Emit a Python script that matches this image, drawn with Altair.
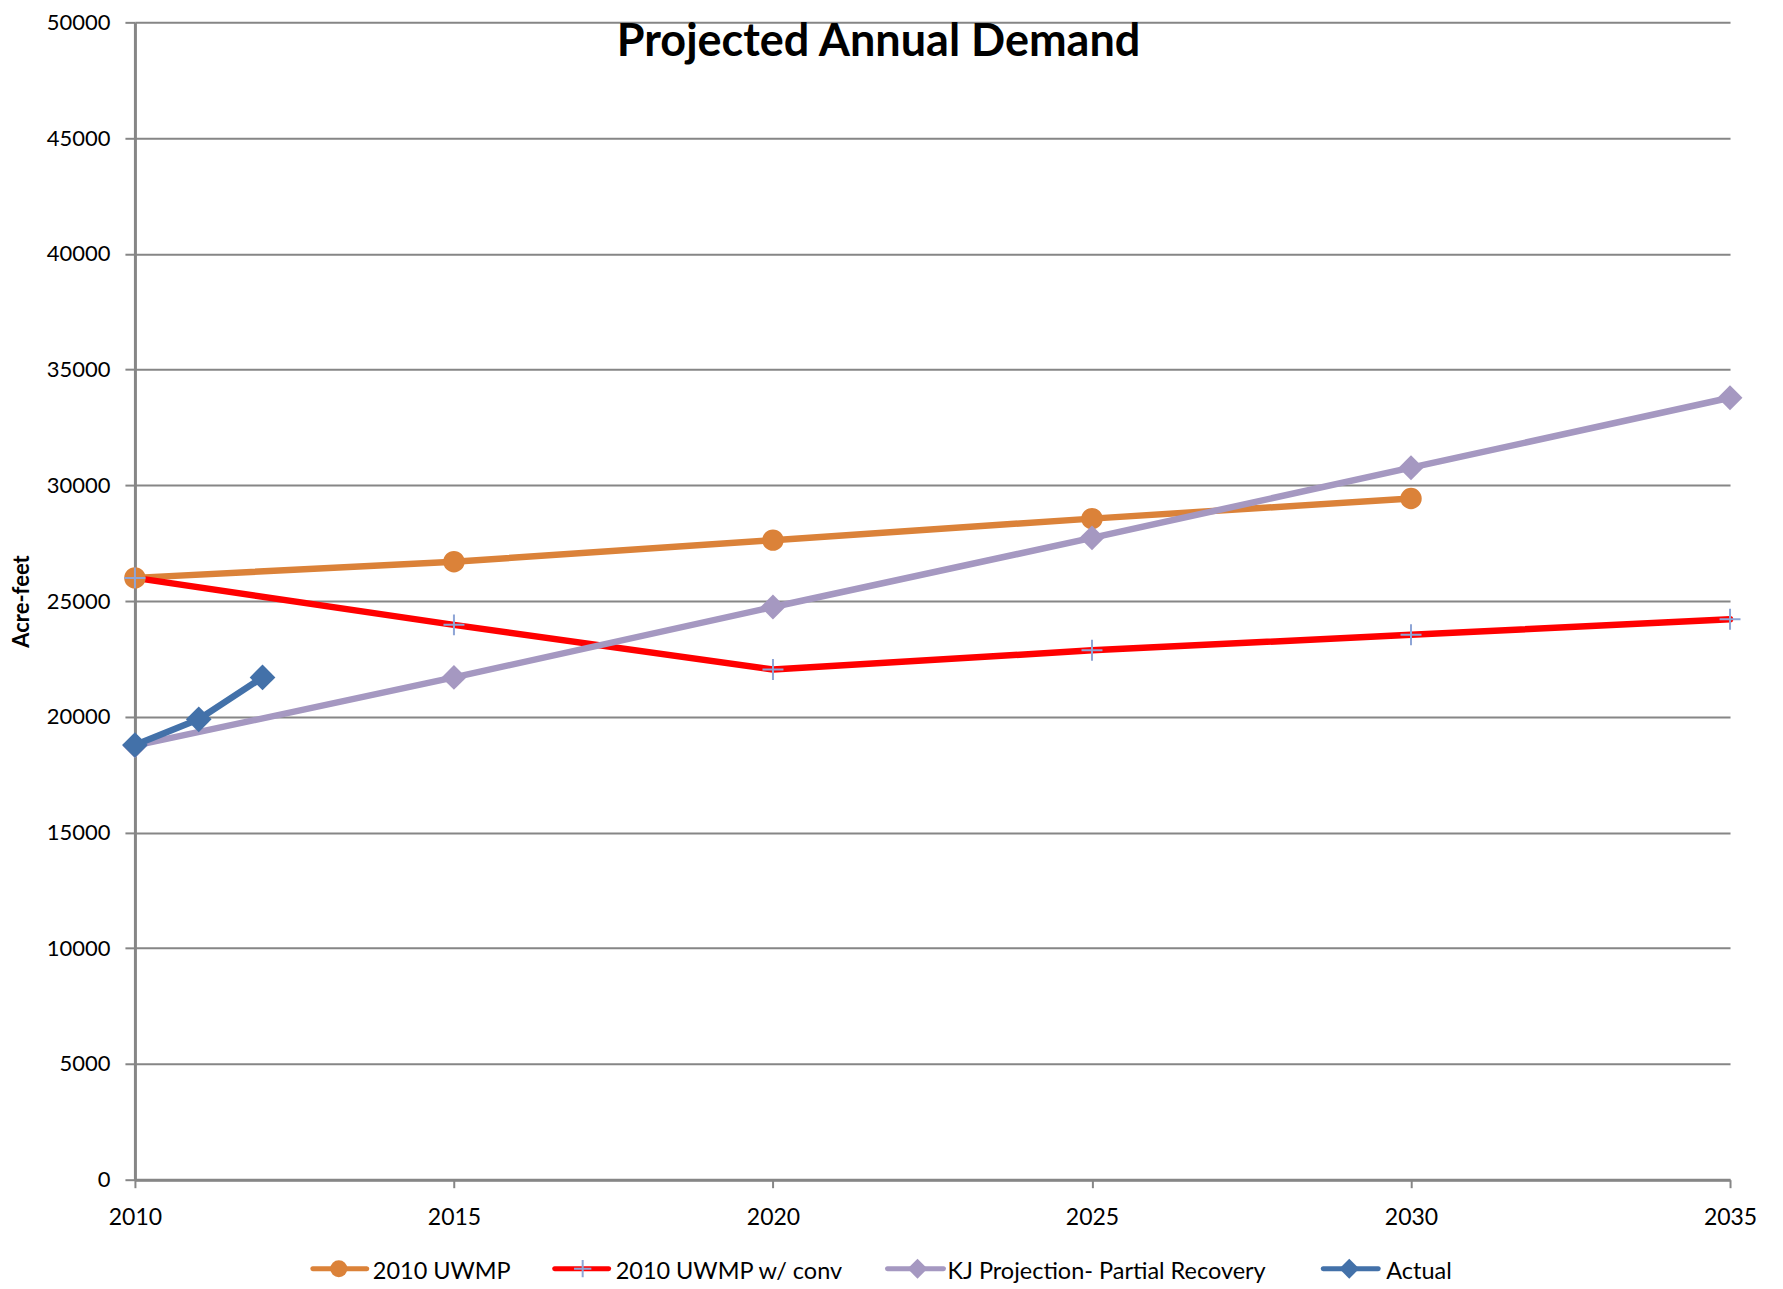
import altair as alt
import pandas as pd

title_text = "Projected Annual Demand"
series_names = ["2010 UWMP", "2010 UWMP w/ conv", "KJ Projection- Partial Recovery", "Actual"]

uwmp_years = [2010, 2015, 2020, 2025, 2030]
uwmp_values = [26000, 26700, 27630, 28560, 29430]
conv_years = [2010, 2015, 2020, 2025, 2030, 2035]
conv_values = [26000, 23970, 22040, 22870, 23540, 24210]
kj_years = [2010, 2015, 2020, 2025, 2030, 2035]
kj_values = [18750, 21700, 24740, 27730, 30760, 33780]
actual_years = [2010, 2011, 2012]
actual_values = [18780, 19890, 21700]

y_ticks = list(range(0, 50001, 5000))
x_ticks = [2010, 2015, 2020, 2025, 2030, 2035]

line_colors = ["#DB8239", "#FF0000", "#A598C1", "#4371A9"]
marker_colors = ["#DB8239", "#8EA5D6", "#A598C1", "#4371A9"]
CROSS = "M-1,0H1M0,-1V1"
marker_shapes = ["circle", CROSS, "diamond", "diamond"]
marker_filled = [True, False, True, True]
marker_sizes = [460, 440, 620, 660]
legend_marker_sizes = [290, 300, 400, 400]
FONT = "Lato"
GRAY = "#868686"

# legend layout (pixels from the plot's top-left corner)
legend_y = 1247
legend_text_dy = 3
legend_line_start = [178, 420, 753, 1189]
legend_line_end = [232, 474, 809, 1244]
legend_marker_x = [204, 448, 783, 1215]
legend_text_x = [238, 481, 813, 1252]

rows = []
for name, ys, vs in [
    (series_names[0], uwmp_years, uwmp_values),
    (series_names[1], conv_years, conv_values),
    (series_names[2], kj_years, kj_values),
    (series_names[3], actual_years, actual_values),
]:
    for yr, v in zip(ys, vs):
        rows.append({"series": name, "year": yr, "value": v})
df = pd.DataFrame(rows)

x = alt.X(
    "year:Q",
    scale=alt.Scale(domain=[2010, 2035], nice=False, zero=False),
    axis=alt.Axis(
        values=x_ticks, format="d", title=None, grid=False, labelFlush=False,
        domainColor=GRAY, domainWidth=3, tickColor=GRAY, tickWidth=2, tickSize=8,
        labelFont=FONT, labelFontSize=23, labelColor="#000000", labelPadding=19,
    ),
)
y = alt.Y(
    "value:Q",
    scale=alt.Scale(domain=[0, 50000], nice=False),
    axis=alt.Axis(
        values=y_ticks, format="d", title="Acre-feet", grid=True, gridColor=GRAY, gridWidth=2,
        domainColor=GRAY, domainWidth=3, tickColor=GRAY, tickWidth=2, tickSize=10,
        labelFont=FONT, labelFontSize=22, labelColor="#000000", labelPadding=15,
        titleFont=FONT, titleFontSize=22, titleFontWeight="bold", titleColor="#000000",
        titlePadding=13,
    ),
)

base = alt.Chart(df)

lines = base.mark_line(strokeWidth=6.5, strokeCap="round", strokeJoin="round").encode(
    x=x, y=y,
    stroke=alt.Stroke("series:N", scale=alt.Scale(domain=series_names, range=line_colors), legend=None),
    order="year:Q",
)

layers = [lines]
for i, name in enumerate(series_names):
    kw = dict(shape=marker_shapes[i], filled=marker_filled[i], size=marker_sizes[i],
              color=marker_colors[i], opacity=1)
    if not marker_filled[i]:
        kw["strokeWidth"] = 2
    layers.append(
        base.transform_filter(alt.datum.series == name).mark_point(**kw).encode(x=x, y=y)
    )

# manual legend (line + marker + label), below the plot
for i, name in enumerate(series_names):
    ldf = pd.DataFrame({"label": [name]})
    layers.append(
        alt.Chart(ldf).mark_rule(color=line_colors[i], strokeWidth=5, strokeCap="round").encode(
            x=alt.value(legend_line_start[i]), x2=alt.value(legend_line_end[i]), y=alt.value(legend_y)
        )
    )
    kw = dict(shape=marker_shapes[i], filled=marker_filled[i], size=legend_marker_sizes[i],
              color=marker_colors[i], opacity=1)
    if not marker_filled[i]:
        kw["strokeWidth"] = 2
    layers.append(
        alt.Chart(ldf).mark_point(**kw).encode(x=alt.value(legend_marker_x[i]), y=alt.value(legend_y))
    )
    layers.append(
        alt.Chart(ldf).mark_text(font=FONT, fontSize=23.5, color="#000000", align="left",
                                 baseline="middle").encode(
            text="label:N", x=alt.value(legend_text_x[i]), y=alt.value(legend_y + legend_text_dy)
        )
    )

title_layer = alt.Chart(pd.DataFrame({"t": [title_text]})).mark_text(
    font=FONT, fontSize=45, fontWeight="bold", color="#000000", align="center", baseline="middle"
).encode(text="t:N", x=alt.value(744), y=alt.value(20))
layers.append(title_layer)

chart = alt.layer(*layers).properties(
    width=1596, height=1158,
    autosize=alt.AutoSizeParams(type="none"),
    padding={"left": 127, "top": 14, "right": 45, "bottom": 107},
).configure_view(stroke=None)

chart.save("out.html", embed_options={"renderer": "svg", "actions": False})
